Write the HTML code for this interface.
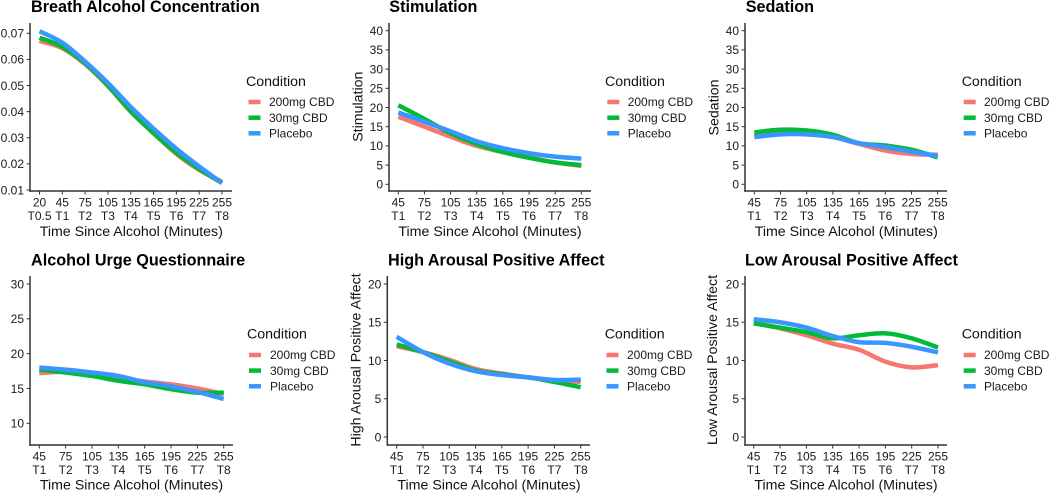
<!DOCTYPE html>
<html lang="en">
<head>
<meta charset="utf-8">
<title>Alcohol and CBD outcome trajectories</title>
<style>
html,body{margin:0;padding:0;background:#fff;width:1050px;height:493px;overflow:hidden}
svg{display:block;font-family:"Liberation Sans",Arial,sans-serif}
.title{font-size:16.2px;font-weight:700;fill:#000}
.axt{font-size:14.2px;fill:#111}
.tick{font-size:12px;fill:#1a1a1a}
.lgt{font-size:14.2px;fill:#111}
.lgl{font-size:12px;fill:#1a1a1a}
.k{stroke-width:4.5;fill:none}
.k2{stroke:#F8766D}.k3{stroke:#00BA38}.kp{stroke:#3A96FF}
</style>
</head>
<body>
<svg id="figure" width="1050" height="493" viewBox="0 0 1050 493" xmlns="http://www.w3.org/2000/svg">
<rect width="1050" height="493" fill="#fff"/>

<g id="p1">
<text class="title" x="31" y="12">Breath Alcohol Concentration</text>
<text class="axt" x="131.3" y="236" text-anchor="middle">Time Since Alcohol (Minutes)</text>
<g>
<text class="lgt" x="246" y="86">Condition</text>
<line class="k k2" x1="248.5" x2="260.5" y1="102" y2="102"/><text class="lgl" x="269" y="106">200mg CBD</text>
<line class="k k3" x1="248.5" x2="260.5" y1="117.7" y2="117.7"/><text class="lgl" x="269" y="122">30mg CBD</text>
<line class="k kp" x1="248.5" x2="260.5" y1="133.3" y2="133.3"/><text class="lgl" x="269" y="137.5">Placebo</text>
</g>
</g>

<g id="p2">
<text class="title" x="389.3" y="12">Stimulation</text>
<text class="axt" x="490" y="236" text-anchor="middle">Time Since Alcohol (Minutes)</text>
<text class="axt" transform="translate(362.5,106.7) rotate(-90)" text-anchor="middle">Stimulation</text>
<g>
<text class="lgt" x="605" y="86">Condition</text>
<line class="k k2" x1="607.3" x2="619.3" y1="102" y2="102"/><text class="lgl" x="627.7" y="106">200mg CBD</text>
<line class="k k3" x1="607.3" x2="619.3" y1="117.7" y2="117.7"/><text class="lgl" x="627.7" y="122">30mg CBD</text>
<line class="k kp" x1="607.3" x2="619.3" y1="133.3" y2="133.3"/><text class="lgl" x="627.7" y="137.5">Placebo</text>
</g>
</g>

<g id="p3">
<text class="title" x="745.7" y="12">Sedation</text>
<text class="axt" x="846.3" y="236" text-anchor="middle">Time Since Alcohol (Minutes)</text>
<text class="axt" transform="translate(718.5,107.5) rotate(-90)" text-anchor="middle">Sedation</text>
<g>
<text class="lgt" x="961.7" y="86">Condition</text>
<line class="k k2" x1="963.7" x2="975.7" y1="102" y2="102"/><text class="lgl" x="984" y="106">200mg CBD</text>
<line class="k k3" x1="963.7" x2="975.7" y1="117.7" y2="117.7"/><text class="lgl" x="984" y="122">30mg CBD</text>
<line class="k kp" x1="963.7" x2="975.7" y1="133.3" y2="133.3"/><text class="lgl" x="984" y="137.5">Placebo</text>
</g>
</g>

<g id="p4">
<text class="title" x="31" y="265.7">Alcohol Urge Questionnaire</text>
<text class="axt" x="131.5" y="489.3" text-anchor="middle">Time Since Alcohol (Minutes)</text>
<g>
<text class="lgt" x="247" y="338.5">Condition</text>
<line class="k k2" x1="249" x2="261" y1="355" y2="355"/><text class="lgl" x="270" y="359">200mg CBD</text>
<line class="k k3" x1="249" x2="261" y1="370.6" y2="370.6"/><text class="lgl" x="270" y="375">30mg CBD</text>
<line class="k kp" x1="249" x2="261" y1="386.3" y2="386.3"/><text class="lgl" x="270" y="390.5">Placebo</text>
</g>
</g>

<g id="p5">
<text class="title" x="388" y="265.7">High Arousal Positive Affect</text>
<text class="axt" x="489" y="489.3" text-anchor="middle">Time Since Alcohol (Minutes)</text>
<text class="axt" transform="translate(360.5,360) rotate(-90)" text-anchor="middle">High Arousal Positive Affect</text>
<g>
<text class="lgt" x="604.7" y="338.5">Condition</text>
<line class="k k2" x1="606.5" x2="618.5" y1="355" y2="355"/><text class="lgl" x="627" y="359">200mg CBD</text>
<line class="k k3" x1="606.5" x2="618.5" y1="370.6" y2="370.6"/><text class="lgl" x="627" y="375">30mg CBD</text>
<line class="k kp" x1="606.5" x2="618.5" y1="386.3" y2="386.3"/><text class="lgl" x="627" y="390.5">Placebo</text>
</g>
</g>

<g id="p6">
<text class="title" x="745" y="265.7">Low Arousal Positive Affect</text>
<text class="axt" x="846" y="489.3" text-anchor="middle">Time Since Alcohol (Minutes)</text>
<text class="axt" transform="translate(717,360) rotate(-90)" text-anchor="middle">Low Arousal Positive Affect</text>
<g>
<text class="lgt" x="961.7" y="338.5">Condition</text>
<line class="k k2" x1="963.7" x2="975.7" y1="355" y2="355"/><text class="lgl" x="984" y="359">200mg CBD</text>
<line class="k k3" x1="963.7" x2="975.7" y1="370.6" y2="370.6"/><text class="lgl" x="984" y="375">30mg CBD</text>
<line class="k kp" x1="963.7" x2="975.7" y1="386.3" y2="386.3"/><text class="lgl" x="984" y="390.5">Placebo</text>
</g>
</g>
</svg>

<script>
// Category labels
const minutesWithBaseline = ['20','45','75','105','135','165','195','225','255'];
const timesWithBaseline = ['T0.5','T1','T2','T3','T4','T5','T6','T7','T8'];
const minutes = ['45','75','105','135','165','195','225','255'];
const times = ['T1','T2','T3','T4','T5','T6','T7','T8'];

// Y tick labels
const bacTicks = ['0.01','0.02','0.03','0.04','0.05','0.06','0.07'];
const ticks0to40 = ['0','5','10','15','20','25','30','35','40'];
const ticks10to30 = ['10','15','20','25','30'];
const ticks0to20 = ['0','5','10','15','20'];

// Breath alcohol concentration
const bac200 = [0.0671,0.0643,0.0582,0.0498,0.0400,0.0317,0.0238,0.0177,0.0131];
const bac30 = [0.0683,0.0648,0.0585,0.0500,0.0402,0.0318,0.0243,0.0180,0.0127];
const bacPlacebo = [0.0708,0.0664,0.0592,0.0510,0.0418,0.0335,0.0258,0.0190,0.0127];

// Stimulation
const stim200 = [17.6,15.0,12.4,10.0,8.4,7.0,5.7,4.8];
const stim30 = [20.6,17.0,13.3,10.5,8.4,6.9,5.7,5.0];
const stimPlacebo = [18.7,16.3,13.8,11.2,9.4,8.1,7.2,6.7];

// Sedation
const sed200 = [12.6,13.3,13.1,12.3,10.5,8.8,7.9,7.7];
const sed30 = [13.5,14.2,14.0,12.9,10.7,10.1,9.0,7.0];
const sedPlacebo = [12.3,13.0,13.0,12.3,10.7,9.7,8.5,7.4];

// Alcohol urge questionnaire
const urge200 = [17.2,17.4,16.9,16.5,16.0,15.6,15.0,14.2];
const urge30 = [17.7,17.3,16.8,16.1,15.6,14.9,14.4,14.4];
const urgePlacebo = [18.0,17.7,17.3,16.8,15.9,15.3,14.5,13.5];

// High arousal positive affect
const high200 = [11.85,11.1,10.1,8.9,8.3,7.8,7.45,7.2];
const high30 = [12.1,11.1,9.9,8.7,8.2,7.8,7.2,6.5];
const highPlacebo = [13.1,11.1,9.6,8.6,8.1,7.8,7.45,7.5];

// Low arousal positive affect
const low200 = [14.9,14.2,13.3,12.2,11.4,9.85,9.1,9.4];
const low30 = [14.85,14.3,13.7,12.9,13.3,13.55,12.9,11.7];
const lowPlacebo = [15.4,15.0,14.3,13.2,12.4,12.3,11.8,11.05];

const SVG_NS = 'http://www.w3.org/2000/svg';
const seriesColors = ['#F8766D','#00BA38','#3A96FF'];
const seriesNames = ['series-200mg','series-30mg','series-placebo'];

function make(tag, parent, attrs) {
  const el = document.createElementNS(SVG_NS, tag);
  Object.keys(attrs).forEach(function (k) { el.setAttribute(k, attrs[k]); });
  parent.appendChild(el);
  return el;
}

function smoothPath(pts) {
  let d = 'M' + pts[0][0].toFixed(2) + ' ' + pts[0][1].toFixed(2);
  for (let i = 0; i < pts.length - 1; i++) {
    const p0 = pts[Math.max(i - 1, 0)], p1 = pts[i], p2 = pts[i + 1], p3 = pts[Math.min(i + 2, pts.length - 1)];
    const c1x = p1[0] + (p2[0] - p0[0]) / 6, c1y = p1[1] + (p2[1] - p0[1]) / 6;
    const c2x = p2[0] - (p3[0] - p1[0]) / 6, c2y = p2[1] - (p3[1] - p1[1]) / 6;
    d += 'C' + c1x.toFixed(2) + ' ' + c1y.toFixed(2) + ' ' + c2x.toFixed(2) + ' ' + c2y.toFixed(2) + ' ' + p2[0].toFixed(2) + ' ' + p2[1].toFixed(2);
  }
  return d;
}

function drawPanel(cfg) {
  const host = document.getElementById(cfg.id);
  const n = cfg.cats.length;
  const xScale = function (i) { return cfg.x0 + (cfg.x1 - cfg.x0) * i / (n - 1); };
  const yScale = function (v) { return cfg.yLo + (cfg.yHi - cfg.yLo) * (v - cfg.vLo) / (cfg.vHi - cfg.vLo); };

  const yAxis = make('line', host, {x1: cfg.ax, x2: cfg.ax, y1: cfg.top, y2: cfg.bottom + 0.75, stroke: '#333', 'stroke-width': 1.5});
  
  
  const xAxis = make('line', host, {x1: cfg.ax - 0.75, x2: cfg.right, y1: cfg.bottom, y2: cfg.bottom, stroke: '#333', 'stroke-width': 1.5});
  
  

  cfg.cats.forEach(function (c, i) {
    const x = xScale(i);
    const tick = make('line', host, {x1: x, x2: x, y1: cfg.bottom, y2: cfg.bottom + 3.5, stroke: '#333', 'stroke-width': 1});
    
    
    const label = make('text', host, {x: x, y: cfg.bottom + 15.5, 'text-anchor': 'middle', class: 'tick'});
    label.textContent = c;
    
    
    const label2 = make('text', host, {x: x, y: cfg.bottom + 29, 'text-anchor': 'middle', class: 'tick'});
    label2.textContent = cfg.cats2[i];
    
    
  });

  cfg.yTicks.forEach(function (t) {
    const y = yScale(parseFloat(t));
    const tick = make('line', host, {x1: cfg.ax - 3.5, x2: cfg.ax, y1: y, y2: y, stroke: '#333', 'stroke-width': 1});
    
    
    const label = make('text', host, {x: cfg.ax - 6, y: y + 4.3, 'text-anchor': 'end', class: 'tick'});
    label.textContent = t;
    
    
  });

  cfg.series.forEach(function (vals, s) {
    const pts = vals.map(function (v, i) { return [xScale(i), yScale(v)]; });
    const path = make('path', host, {d: smoothPath(pts), fill: 'none', stroke: seriesColors[s], 'stroke-width': 4.5, 'stroke-linejoin': 'round'});
    
    
  });
}

drawPanel({id:'p1', cats:minutesWithBaseline, cats2:timesWithBaseline, yTicks:bacTicks, series:[bac200,bac30,bacPlacebo],
  x0:39.5, x1:222, ax:30, right:232, top:23, bottom:191, vLo:0.01, vHi:0.07, yLo:190, yHi:33.3});
drawPanel({id:'p2', cats:minutes, cats2:times, yTicks:ticks0to40, series:[stim200,stim30,stimPlacebo],
  x0:398.3, x1:581.3, ax:389, right:591, top:23, bottom:191, vLo:0, vHi:40, yLo:184.3, yHi:30.7});
drawPanel({id:'p3', cats:minutes, cats2:times, yTicks:ticks0to40, series:[sed200,sed30,sedPlacebo],
  x0:754.3, x1:937.7, ax:745, right:947, top:23, bottom:191, vLo:0, vHi:40, yLo:184.3, yHi:30.7});
drawPanel({id:'p4', cats:minutes, cats2:times, yTicks:ticks10to30, series:[urge200,urge30,urgePlacebo],
  x0:39.3, x1:223.7, ax:30, right:233, top:276, bottom:445, vLo:10, vHi:30, yLo:423.3, yHi:284});
drawPanel({id:'p5', cats:minutes, cats2:times, yTicks:ticks0to20, series:[high200,high30,highPlacebo],
  x0:396.7, x1:580.7, ax:387.3, right:590, top:276, bottom:445, vLo:0, vHi:20, yLo:437, yHi:284});
drawPanel({id:'p6', cats:minutes, cats2:times, yTicks:ticks0to20, series:[low200,low30,lowPlacebo],
  x0:753.7, x1:938, ax:745, right:947, top:276, bottom:445, vLo:0, vHi:20, yLo:437, yHi:284});
</script>
</body>
</html>
